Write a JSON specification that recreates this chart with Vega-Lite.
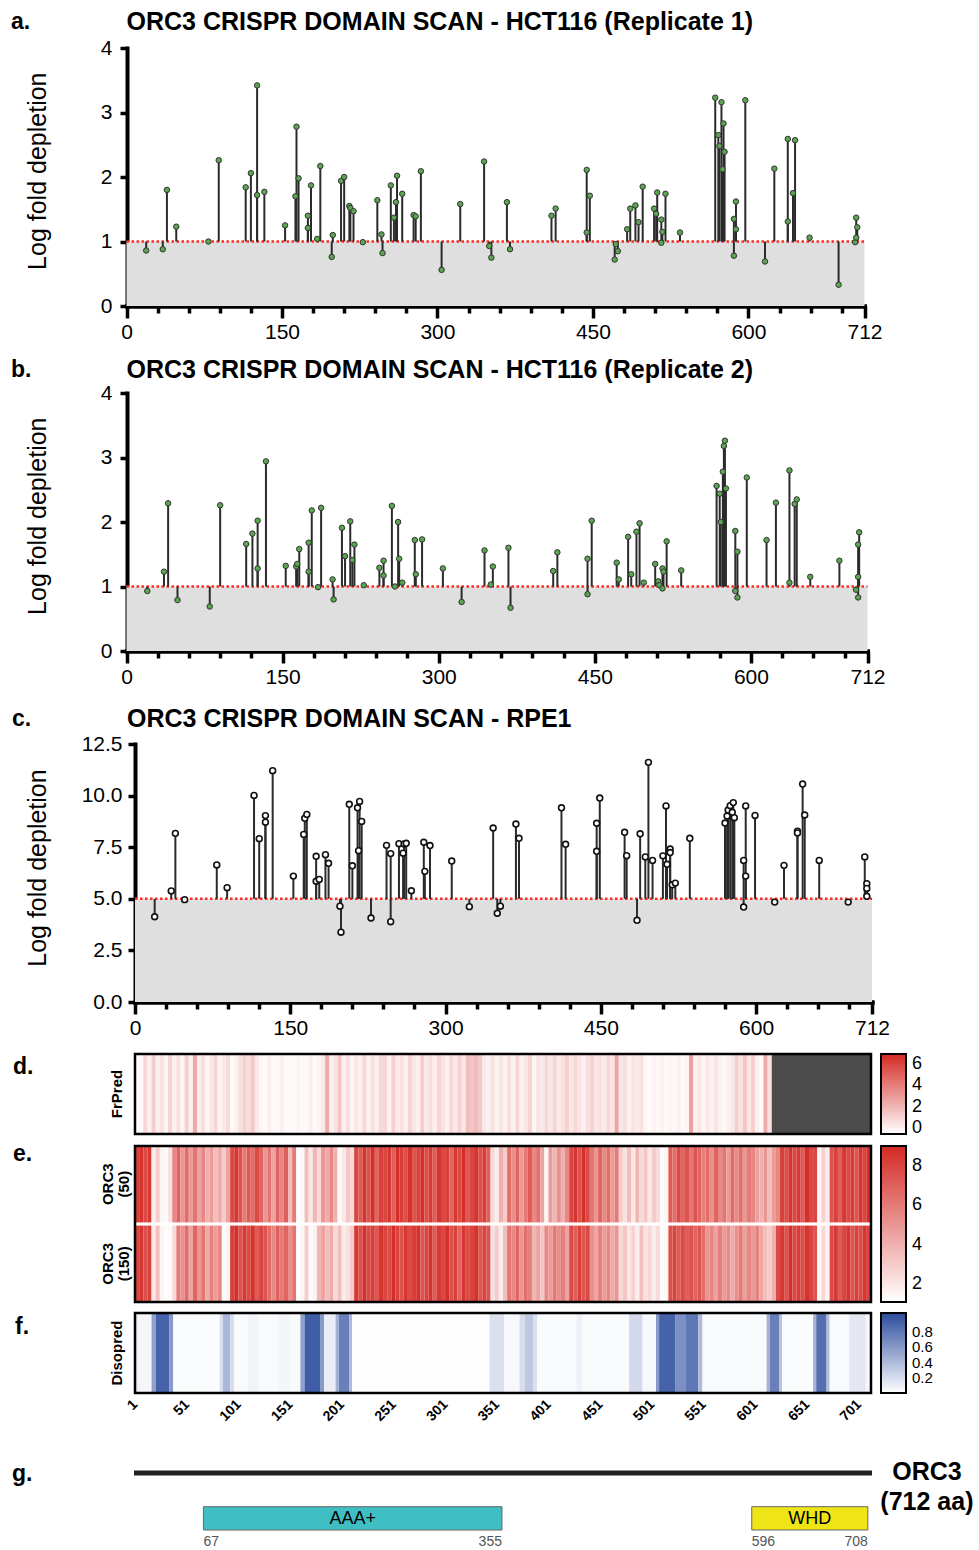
{
"$schema": "https://vega.github.io/schema/vega-lite/v6.json",
"background": "white",
"padding": {"left": 10, "top": 10, "right": 0, "bottom": 0},
"autosize": {"type": "pad"},
"bounds": "flush",
"spacing": 0,
"resolve": {"scale": {"x": "independent", "y": "independent", "color": "independent"}, "legend": {"color": "independent"}},
"config": {
  "view": {"stroke": null},
  "font": "Liberation Sans",
  "axis": {"labelFont": "Liberation Sans", "titleFont": "Liberation Sans", "labelColor": "black", "titleColor": "black", "domainColor": "black", "tickColor": "black", "grid": false},
  "legend": {"labelFont": "Liberation Sans Narrow, Liberation Sans", "labelColor": "black"},
  "text": {"font": "Liberation Sans", "color": "black"}
},
"datasets": {
"ra": [{"r":19,"v":0.86},{"r":35,"v":0.88},{"r":39,"v":1.8},{"r":48,"v":1.23},{"r":79,"v":1.0},{"r":89,"v":2.26},{"r":115,"v":1.84},{"r":120,"v":2.06},{"r":126,"v":3.42},{"r":126,"v":1.72},{"r":133,"v":1.77},{"r":153,"v":1.25},{"r":163,"v":1.7},{"r":164,"v":2.78},{"r":166,"v":1.98},{"r":175,"v":1.4},{"r":175,"v":1.21},{"r":178,"v":1.87},{"r":184,"v":1.04},{"r":187,"v":2.17},{"r":198,"v":0.76},{"r":199,"v":1.1},{"r":207,"v":1.94},{"r":210,"v":2.0},{"r":215,"v":1.55},{"r":216,"v":1.52},{"r":219,"v":1.47},{"r":228,"v":0.99},{"r":242,"v":1.64},{"r":246,"v":1.11},{"r":247,"v":0.82},{"r":255,"v":1.87},{"r":258,"v":1.37},{"r":260,"v":1.61},{"r":261,"v":2.02},{"r":266,"v":1.74},{"r":277,"v":1.41},{"r":279,"v":1.39},{"r":284,"v":2.09},{"r":304,"v":0.56},{"r":322,"v":1.58},{"r":345,"v":2.24},{"r":350,"v":0.93},{"r":352,"v":0.75},{"r":367,"v":1.61},{"r":370,"v":0.88},{"r":410,"v":1.4},{"r":414,"v":1.51},{"r":444,"v":2.11},{"r":444,"v":1.14},{"r":447,"v":1.71},{"r":471,"v":0.72},{"r":472,"v":0.96},{"r":474,"v":0.85},{"r":483,"v":1.19},{"r":486,"v":1.51},{"r":491,"v":1.56},{"r":494,"v":1.3},{"r":498,"v":1.85},{"r":509,"v":1.51},{"r":511,"v":1.43},{"r":512,"v":1.76},{"r":516,"v":1.34},{"r":516,"v":0.98},{"r":517,"v":1.15},{"r":520,"v":1.74},{"r":534,"v":1.14},{"r":568,"v":3.23},{"r":571,"v":2.65},{"r":572,"v":2.48},{"r":574,"v":3.16},{"r":575,"v":2.12},{"r":576,"v":2.83},{"r":577,"v":2.39},{"r":586,"v":1.35},{"r":586,"v":0.78},{"r":588,"v":1.62},{"r":588,"v":1.19},{"r":597,"v":3.19},{"r":616,"v":0.69},{"r":625,"v":2.13},{"r":638,"v":2.59},{"r":638,"v":1.31},{"r":643,"v":1.75},{"r":645,"v":2.57},{"r":659,"v":1.06},{"r":687,"v":0.33},{"r":703,"v":0.99},{"r":704,"v":1.06},{"r":704,"v":1.37},{"r":705,"v":1.22}],
"rb": [{"r":20,"v":0.93},{"r":36,"v":1.23},{"r":40,"v":2.29},{"r":49,"v":0.79},{"r":80,"v":0.69},{"r":90,"v":2.26},{"r":115,"v":1.66},{"r":121,"v":1.82},{"r":126,"v":2.02},{"r":126,"v":1.28},{"r":134,"v":2.94},{"r":153,"v":1.32},{"r":163,"v":1.31},{"r":164,"v":1.35},{"r":166,"v":1.58},{"r":175,"v":1.68},{"r":175,"v":1.23},{"r":178,"v":2.18},{"r":184,"v":0.99},{"r":187,"v":2.22},{"r":198,"v":1.11},{"r":199,"v":0.8},{"r":207,"v":1.91},{"r":210,"v":1.47},{"r":215,"v":2.01},{"r":217,"v":1.41},{"r":219,"v":1.65},{"r":228,"v":1.02},{"r":243,"v":1.29},{"r":247,"v":1.4},{"r":247,"v":1.17},{"r":255,"v":2.25},{"r":258,"v":1.0},{"r":261,"v":2.0},{"r":262,"v":1.43},{"r":265,"v":1.06},{"r":277,"v":1.72},{"r":278,"v":1.19},{"r":284,"v":1.73},{"r":304,"v":1.28},{"r":322,"v":0.76},{"r":344,"v":1.56},{"r":350,"v":1.03},{"r":352,"v":1.31},{"r":367,"v":1.6},{"r":369,"v":0.67},{"r":410,"v":1.24},{"r":414,"v":1.53},{"r":443,"v":1.43},{"r":443,"v":0.88},{"r":447,"v":2.02},{"r":471,"v":1.37},{"r":473,"v":1.11},{"r":482,"v":1.77},{"r":485,"v":1.19},{"r":490,"v":1.85},{"r":493,"v":1.98},{"r":497,"v":1.06},{"r":508,"v":1.35},{"r":511,"v":1.08},{"r":512,"v":1.02},{"r":515,"v":1.28},{"r":515,"v":0.97},{"r":516,"v":1.23},{"r":519,"v":1.7},{"r":533,"v":1.25},{"r":567,"v":2.56},{"r":570,"v":2.44},{"r":571,"v":2.0},{"r":573,"v":2.78},{"r":574,"v":3.18},{"r":575,"v":3.26},{"r":576,"v":2.52},{"r":585,"v":1.86},{"r":585,"v":0.93},{"r":587,"v":1.54},{"r":587,"v":0.83},{"r":596,"v":2.69},{"r":615,"v":1.72},{"r":624,"v":2.3},{"r":637,"v":2.8},{"r":637,"v":1.06},{"r":642,"v":2.28},{"r":644,"v":2.35},{"r":657,"v":1.15},{"r":685,"v":1.4},{"r":701,"v":0.95},{"r":703,"v":0.83},{"r":703,"v":1.15},{"r":703,"v":1.65},{"r":704,"v":1.84}],
"rc": [{"r":19,"v":4.13},{"r":35,"v":5.38},{"r":39,"v":8.17},{"r":48,"v":4.96},{"r":79,"v":6.64},{"r":89,"v":5.54},{"r":115,"v":10.01},{"r":120,"v":7.91},{"r":126,"v":9.03},{"r":126,"v":8.71},{"r":133,"v":11.21},{"r":153,"v":6.1},{"r":163,"v":8.12},{"r":164,"v":8.9},{"r":166,"v":9.09},{"r":175,"v":7.06},{"r":175,"v":5.85},{"r":178,"v":5.94},{"r":184,"v":7.14},{"r":187,"v":6.72},{"r":198,"v":4.64},{"r":199,"v":3.38},{"r":207,"v":9.58},{"r":210,"v":6.6},{"r":215,"v":9.41},{"r":216,"v":7.33},{"r":217,"v":9.72},{"r":219,"v":8.75},{"r":228,"v":4.07},{"r":243,"v":7.59},{"r":247,"v":7.19},{"r":247,"v":3.89},{"r":255,"v":7.67},{"r":259,"v":7.21},{"r":260,"v":7.66},{"r":262,"v":7.69},{"r":267,"v":5.39},{"r":279,"v":7.74},{"r":280,"v":6.33},{"r":285,"v":7.58},{"r":306,"v":6.83},{"r":323,"v":4.62},{"r":346,"v":8.43},{"r":350,"v":4.3},{"r":353,"v":4.64},{"r":368,"v":8.62},{"r":371,"v":7.93},{"r":412,"v":9.41},{"r":416,"v":7.64},{"r":446,"v":8.66},{"r":446,"v":7.3},{"r":449,"v":9.88},{"r":473,"v":8.22},{"r":475,"v":7.09},{"r":485,"v":3.96},{"r":488,"v":8.15},{"r":493,"v":7.03},{"r":496,"v":11.61},{"r":500,"v":6.86},{"r":510,"v":7.08},{"r":513,"v":9.5},{"r":514,"v":6.67},{"r":517,"v":7.41},{"r":517,"v":7.24},{"r":519,"v":5.68},{"r":522,"v":5.76},{"r":536,"v":7.93},{"r":570,"v":8.67},{"r":572,"v":9.01},{"r":573,"v":9.3},{"r":575,"v":9.51},{"r":577,"v":9.19},{"r":578,"v":9.66},{"r":579,"v":8.93},{"r":588,"v":6.86},{"r":588,"v":4.6},{"r":590,"v":9.5},{"r":590,"v":6.1},{"r":599,"v":9.04},{"r":618,"v":4.84},{"r":627,"v":6.62},{"r":640,"v":8.28},{"r":640,"v":8.19},{"r":645,"v":10.56},{"r":647,"v":9.06},{"r":661,"v":6.86},{"r":689,"v":4.84},{"r":705,"v":7.03},{"r":707,"v":5.73},{"r":707,"v":5.5},{"r":707,"v":5.12}],
"fr": [{"s":1,"e":5,"v":-0.5},{"s":5,"e":9,"v":-0.3},{"s":9,"e":13,"v":0.8},{"s":13,"e":17,"v":0.0},{"s":17,"e":21,"v":1.2},{"s":21,"e":25,"v":0.0},{"s":25,"e":29,"v":0.5},{"s":29,"e":33,"v":-0.2},{"s":33,"e":37,"v":1.0},{"s":37,"e":41,"v":-0.1},{"s":41,"e":45,"v":0.6},{"s":45,"e":49,"v":-0.2},{"s":49,"e":53,"v":1.1},{"s":53,"e":57,"v":0.0},{"s":57,"e":61,"v":2.4},{"s":61,"e":65,"v":0.0},{"s":65,"e":69,"v":0.6},{"s":69,"e":73,"v":-0.2},{"s":73,"e":77,"v":0.3},{"s":77,"e":81,"v":0.9},{"s":81,"e":85,"v":-0.2},{"s":85,"e":89,"v":0.2},{"s":89,"e":93,"v":0.7},{"s":93,"e":97,"v":-0.3},{"s":97,"e":101,"v":0.0},{"s":101,"e":105,"v":0.6},{"s":105,"e":109,"v":1.1},{"s":109,"e":113,"v":0.7},{"s":113,"e":117,"v":1.3},{"s":117,"e":121,"v":0.2},{"s":121,"e":125,"v":-0.2},{"s":125,"e":129,"v":-0.4},{"s":129,"e":133,"v":0.0},{"s":133,"e":137,"v":-0.4},{"s":137,"e":141,"v":-0.3},{"s":141,"e":145,"v":0.0},{"s":145,"e":149,"v":-0.4},{"s":149,"e":153,"v":-0.4},{"s":153,"e":157,"v":-0.3},{"s":157,"e":161,"v":-0.2},{"s":161,"e":165,"v":-0.4},{"s":165,"e":169,"v":-0.3},{"s":169,"e":173,"v":0.0},{"s":173,"e":177,"v":-0.4},{"s":177,"e":181,"v":-0.2},{"s":181,"e":185,"v":0.2},{"s":185,"e":189,"v":2.4},{"s":189,"e":193,"v":0.0},{"s":193,"e":197,"v":0.4},{"s":197,"e":201,"v":1.5},{"s":201,"e":205,"v":0.0},{"s":205,"e":209,"v":0.6},{"s":209,"e":213,"v":-0.2},{"s":213,"e":217,"v":0.3},{"s":217,"e":221,"v":0.0},{"s":221,"e":225,"v":0.9},{"s":225,"e":229,"v":0.0},{"s":229,"e":233,"v":0.5},{"s":233,"e":237,"v":0.0},{"s":237,"e":241,"v":0.8},{"s":241,"e":245,"v":0.9},{"s":245,"e":249,"v":0.0},{"s":249,"e":253,"v":1.1},{"s":253,"e":257,"v":0.2},{"s":257,"e":261,"v":0.5},{"s":261,"e":265,"v":0.0},{"s":265,"e":269,"v":1.0},{"s":269,"e":273,"v":0.3},{"s":273,"e":277,"v":0.0},{"s":277,"e":281,"v":1.2},{"s":281,"e":285,"v":0.2},{"s":285,"e":289,"v":0.6},{"s":289,"e":293,"v":0.0},{"s":293,"e":297,"v":0.9},{"s":297,"e":301,"v":0.4},{"s":301,"e":305,"v":0.0},{"s":305,"e":309,"v":0.8},{"s":309,"e":313,"v":0.2},{"s":313,"e":317,"v":1.0},{"s":317,"e":321,"v":0.3},{"s":321,"e":325,"v":1.7},{"s":325,"e":329,"v":1.5},{"s":329,"e":333,"v":1.9},{"s":333,"e":337,"v":1.4},{"s":337,"e":341,"v":0.3},{"s":341,"e":345,"v":0.0},{"s":345,"e":349,"v":0.5},{"s":349,"e":353,"v":-0.1},{"s":353,"e":357,"v":0.3},{"s":357,"e":361,"v":-0.1},{"s":361,"e":365,"v":0.6},{"s":365,"e":369,"v":-0.1},{"s":369,"e":373,"v":0.9},{"s":373,"e":377,"v":0.0},{"s":377,"e":381,"v":0.3},{"s":381,"e":385,"v":1.0},{"s":385,"e":389,"v":-0.2},{"s":389,"e":393,"v":0.4},{"s":393,"e":397,"v":0.2},{"s":397,"e":401,"v":0.8},{"s":401,"e":405,"v":0.3},{"s":405,"e":409,"v":1.0},{"s":409,"e":413,"v":0.2},{"s":413,"e":417,"v":0.5},{"s":417,"e":421,"v":1.1},{"s":421,"e":425,"v":0.3},{"s":425,"e":429,"v":0.8},{"s":429,"e":433,"v":0.4},{"s":433,"e":437,"v":0.0},{"s":437,"e":441,"v":0.6},{"s":441,"e":445,"v":1.0},{"s":445,"e":449,"v":0.3},{"s":449,"e":453,"v":0.5},{"s":453,"e":457,"v":0.2},{"s":457,"e":461,"v":0.8},{"s":461,"e":465,"v":0.4},{"s":465,"e":469,"v":2.6},{"s":469,"e":473,"v":0.3},{"s":473,"e":477,"v":0.6},{"s":477,"e":481,"v":0.0},{"s":481,"e":485,"v":0.4},{"s":485,"e":489,"v":0.2},{"s":489,"e":493,"v":0.5},{"s":493,"e":497,"v":-0.2},{"s":497,"e":501,"v":-0.4},{"s":501,"e":505,"v":-0.1},{"s":505,"e":509,"v":-0.3},{"s":509,"e":513,"v":-0.1},{"s":513,"e":517,"v":-0.4},{"s":517,"e":521,"v":-0.2},{"s":521,"e":525,"v":-0.3},{"s":525,"e":529,"v":0.0},{"s":529,"e":533,"v":-0.4},{"s":533,"e":537,"v":-0.2},{"s":537,"e":541,"v":2.8},{"s":541,"e":545,"v":0.0},{"s":545,"e":549,"v":0.3},{"s":549,"e":553,"v":-0.2},{"s":553,"e":557,"v":0.2},{"s":557,"e":561,"v":-0.1},{"s":561,"e":565,"v":0.4},{"s":565,"e":569,"v":-0.1},{"s":569,"e":573,"v":-0.3},{"s":573,"e":577,"v":0.0},{"s":577,"e":581,"v":0.3},{"s":581,"e":585,"v":1.2},{"s":585,"e":589,"v":0.5},{"s":589,"e":593,"v":1.4},{"s":593,"e":597,"v":0.3},{"s":597,"e":601,"v":1.1},{"s":601,"e":605,"v":0.0},{"s":605,"e":609,"v":-0.3},{"s":609,"e":613,"v":2.4},{"s":613,"e":617,"v":0.5}],
"orc": [{"s":1,"e":5,"t":8.2,"u":8.0},{"s":5,"e":9,"t":8.6,"u":8.5},{"s":9,"e":13,"t":7.8,"u":7.6},{"s":13,"e":17,"t":8.4,"u":8.2},{"s":17,"e":21,"t":1.8,"u":2.0},{"s":21,"e":25,"t":3.0,"u":3.5},{"s":25,"e":29,"t":1.5,"u":1.5},{"s":29,"e":33,"t":1.3,"u":1.2},{"s":33,"e":37,"t":2.2,"u":1.3},{"s":37,"e":41,"t":5.5,"u":2.5},{"s":41,"e":45,"t":6.8,"u":6.0},{"s":45,"e":49,"t":5.0,"u":5.2},{"s":49,"e":53,"t":6.5,"u":6.5},{"s":53,"e":57,"t":4.8,"u":4.5},{"s":57,"e":61,"t":6.2,"u":6.8},{"s":61,"e":65,"t":4.5,"u":5.0},{"s":65,"e":69,"t":5.5,"u":6.2},{"s":69,"e":73,"t":4.0,"u":4.2},{"s":73,"e":77,"t":4.8,"u":5.8},{"s":77,"e":81,"t":3.5,"u":4.8},{"s":81,"e":85,"t":4.2,"u":5.5},{"s":85,"e":89,"t":3.0,"u":1.3},{"s":89,"e":93,"t":4.5,"u":1.5},{"s":93,"e":97,"t":7.8,"u":8.2},{"s":97,"e":101,"t":8.5,"u":8.8},{"s":101,"e":105,"t":7.5,"u":7.5},{"s":105,"e":109,"t":6.0,"u":8.4},{"s":109,"e":113,"t":7.2,"u":7.8},{"s":113,"e":117,"t":6.5,"u":8.6},{"s":117,"e":121,"t":7.8,"u":7.2},{"s":121,"e":125,"t":6.8,"u":8.0},{"s":125,"e":129,"t":5.0,"u":7.4},{"s":129,"e":133,"t":6.2,"u":6.5},{"s":133,"e":137,"t":4.5,"u":5.5},{"s":137,"e":141,"t":6.8,"u":7.0},{"s":141,"e":145,"t":5.5,"u":6.0},{"s":145,"e":149,"t":7.0,"u":6.8},{"s":149,"e":153,"t":3.5,"u":5.2},{"s":153,"e":157,"t":6.0,"u":6.2},{"s":157,"e":161,"t":1.2,"u":1.2},{"s":161,"e":165,"t":1.4,"u":1.5},{"s":165,"e":169,"t":3.5,"u":3.0},{"s":169,"e":173,"t":2.0,"u":1.3},{"s":173,"e":177,"t":3.8,"u":1.6},{"s":177,"e":181,"t":2.5,"u":3.8},{"s":181,"e":185,"t":5.0,"u":4.5},{"s":185,"e":189,"t":4.2,"u":3.5},{"s":189,"e":193,"t":5.5,"u":4.2},{"s":193,"e":197,"t":4.0,"u":2.5},{"s":197,"e":201,"t":1.3,"u":3.5},{"s":201,"e":205,"t":2.0,"u":1.8},{"s":205,"e":209,"t":3.2,"u":2.2},{"s":209,"e":213,"t":2.5,"u":3.0},{"s":213,"e":217,"t":8.0,"u":8.4},{"s":217,"e":221,"t":7.2,"u":7.6},{"s":221,"e":225,"t":8.6,"u":8.8},{"s":225,"e":229,"t":7.5,"u":7.9},{"s":229,"e":233,"t":8.8,"u":8.2},{"s":233,"e":237,"t":6.8,"u":7.3},{"s":237,"e":241,"t":8.2,"u":8.6},{"s":241,"e":245,"t":7.9,"u":8.0},{"s":245,"e":249,"t":8.5,"u":7.7},{"s":249,"e":253,"t":7.0,"u":8.9},{"s":253,"e":257,"t":8.9,"u":8.1},{"s":257,"e":261,"t":8.3,"u":7.5},{"s":261,"e":265,"t":7.6,"u":8.5},{"s":265,"e":269,"t":8.7,"u":7.8},{"s":269,"e":273,"t":7.4,"u":8.3},{"s":273,"e":277,"t":8.1,"u":8.7},{"s":277,"e":281,"t":8.8,"u":7.4},{"s":281,"e":285,"t":7.7,"u":8.0},{"s":285,"e":289,"t":8.4,"u":8.6},{"s":289,"e":293,"t":7.1,"u":7.2},{"s":293,"e":297,"t":8.6,"u":8.4},{"s":297,"e":301,"t":7.9,"u":7.9},{"s":301,"e":305,"t":8.2,"u":8.8},{"s":305,"e":309,"t":6.9,"u":7.6},{"s":309,"e":313,"t":8.5,"u":8.2},{"s":313,"e":317,"t":7.8,"u":6.8},{"s":317,"e":321,"t":8.8,"u":8.5},{"s":321,"e":325,"t":7.3,"u":7.7},{"s":325,"e":329,"t":8.0,"u":8.1},{"s":329,"e":333,"t":8.6,"u":8.7},{"s":333,"e":337,"t":7.5,"u":7.3},{"s":337,"e":341,"t":8.3,"u":8.0},{"s":341,"e":345,"t":7.0,"u":7.5},{"s":345,"e":349,"t":2.5,"u":2.2},{"s":349,"e":353,"t":1.8,"u":3.0},{"s":353,"e":357,"t":4.0,"u":1.8},{"s":357,"e":361,"t":3.0,"u":3.5},{"s":361,"e":365,"t":6.5,"u":6.2},{"s":365,"e":369,"t":5.2,"u":5.5},{"s":369,"e":373,"t":6.8,"u":6.8},{"s":373,"e":377,"t":4.8,"u":5.0},{"s":377,"e":381,"t":6.0,"u":6.4},{"s":381,"e":385,"t":7.2,"u":5.8},{"s":385,"e":389,"t":5.5,"u":3.8},{"s":389,"e":393,"t":6.3,"u":4.5},{"s":393,"e":397,"t":4.5,"u":3.2},{"s":397,"e":401,"t":1.5,"u":5.5},{"s":401,"e":405,"t":4.8,"u":4.8},{"s":405,"e":409,"t":3.8,"u":6.0},{"s":409,"e":413,"t":5.2,"u":5.2},{"s":413,"e":417,"t":4.0,"u":5.8},{"s":417,"e":421,"t":5.5,"u":4.5},{"s":421,"e":425,"t":8.0,"u":7.8},{"s":425,"e":429,"t":8.6,"u":7.0},{"s":429,"e":433,"t":7.5,"u":8.2},{"s":433,"e":437,"t":8.8,"u":7.4},{"s":437,"e":441,"t":7.8,"u":7.9},{"s":441,"e":445,"t":6.2,"u":5.2},{"s":445,"e":449,"t":5.0,"u":4.4},{"s":449,"e":453,"t":6.8,"u":5.8},{"s":453,"e":457,"t":5.5,"u":4.8},{"s":457,"e":461,"t":6.5,"u":5.5},{"s":461,"e":465,"t":4.8,"u":4.2},{"s":465,"e":469,"t":6.0,"u":5.0},{"s":469,"e":473,"t":3.0,"u":2.5},{"s":473,"e":477,"t":2.2,"u":3.2},{"s":477,"e":481,"t":3.5,"u":2.0},{"s":481,"e":485,"t":2.0,"u":2.8},{"s":485,"e":489,"t":3.8,"u":1.8},{"s":489,"e":493,"t":2.5,"u":3.4},{"s":493,"e":497,"t":3.2,"u":2.2},{"s":497,"e":501,"t":2.0,"u":2.6},{"s":501,"e":505,"t":3.0,"u":1.8},{"s":505,"e":509,"t":2.4,"u":2.4},{"s":509,"e":513,"t":1.2,"u":1.2},{"s":513,"e":517,"t":1.5,"u":1.4},{"s":517,"e":521,"t":7.2,"u":7.6},{"s":521,"e":525,"t":6.5,"u":8.0},{"s":525,"e":529,"t":7.8,"u":7.2},{"s":529,"e":533,"t":6.8,"u":7.8},{"s":533,"e":537,"t":7.5,"u":7.0},{"s":537,"e":541,"t":6.2,"u":7.5},{"s":541,"e":545,"t":7.4,"u":6.8},{"s":545,"e":549,"t":6.8,"u":7.4},{"s":549,"e":553,"t":5.8,"u":6.5},{"s":553,"e":557,"t":6.5,"u":5.0},{"s":557,"e":561,"t":5.2,"u":5.6},{"s":561,"e":565,"t":6.8,"u":4.5},{"s":565,"e":569,"t":5.5,"u":5.8},{"s":569,"e":573,"t":6.2,"u":4.8},{"s":573,"e":577,"t":4.8,"u":5.4},{"s":577,"e":581,"t":6.6,"u":4.2},{"s":581,"e":585,"t":5.4,"u":5.2},{"s":585,"e":589,"t":6.4,"u":6.0},{"s":589,"e":593,"t":5.0,"u":4.6},{"s":593,"e":597,"t":6.0,"u":5.5},{"s":597,"e":601,"t":5.6,"u":4.9},{"s":601,"e":605,"t":4.6,"u":5.7},{"s":605,"e":609,"t":4.0,"u":4.4},{"s":609,"e":613,"t":5.0,"u":3.5},{"s":613,"e":617,"t":3.5,"u":3.0},{"s":617,"e":621,"t":4.8,"u":4.0},{"s":621,"e":625,"t":5.5,"u":7.8},{"s":625,"e":629,"t":8.2,"u":8.4},{"s":629,"e":633,"t":7.6,"u":7.5},{"s":633,"e":637,"t":8.6,"u":8.8},{"s":637,"e":641,"t":7.9,"u":7.9},{"s":641,"e":645,"t":8.4,"u":8.3},{"s":645,"e":649,"t":7.2,"u":7.6},{"s":649,"e":653,"t":8.8,"u":8.6},{"s":653,"e":657,"t":7.8,"u":8.0},{"s":657,"e":661,"t":8.0,"u":7.4},{"s":661,"e":665,"t":1.5,"u":1.4},{"s":665,"e":669,"t":2.8,"u":2.6},{"s":669,"e":673,"t":1.8,"u":1.6},{"s":673,"e":677,"t":7.5,"u":7.8},{"s":677,"e":681,"t":8.2,"u":8.4},{"s":681,"e":685,"t":7.0,"u":7.2},{"s":685,"e":689,"t":8.5,"u":8.0},{"s":689,"e":693,"t":7.8,"u":8.6},{"s":693,"e":697,"t":8.3,"u":7.5},{"s":697,"e":701,"t":7.4,"u":8.2},{"s":701,"e":705,"t":8.6,"u":7.7},{"s":705,"e":709,"t":8.0,"u":8.5},{"s":709,"e":713,"t":8.8,"u":8.0}],
"dis": [{"s":1,"e":4,"v":0.12},{"s":4,"e":17,"v":0.05},{"s":17,"e":21,"v":0.55},{"s":21,"e":34,"v":0.92},{"s":34,"e":38,"v":0.6},{"s":38,"e":83,"v":0.02},{"s":83,"e":86,"v":0.2},{"s":86,"e":93,"v":0.42},{"s":93,"e":97,"v":0.2},{"s":97,"e":110,"v":0.03},{"s":110,"e":120,"v":0.07},{"s":120,"e":140,"v":0.03},{"s":140,"e":150,"v":0.06},{"s":150,"e":161,"v":0.03},{"s":161,"e":165,"v":0.55},{"s":165,"e":180,"v":0.95},{"s":180,"e":184,"v":0.6},{"s":184,"e":195,"v":0.1},{"s":195,"e":198,"v":0.45},{"s":198,"e":208,"v":0.75},{"s":208,"e":211,"v":0.4},{"s":211,"e":344,"v":0.01},{"s":344,"e":358,"v":0.18},{"s":358,"e":373,"v":0.04},{"s":373,"e":378,"v":0.2},{"s":378,"e":386,"v":0.32},{"s":386,"e":390,"v":0.18},{"s":390,"e":428,"v":0.03},{"s":428,"e":434,"v":0.08},{"s":434,"e":479,"v":0.03},{"s":479,"e":492,"v":0.22},{"s":492,"e":505,"v":0.04},{"s":505,"e":508,"v":0.6},{"s":508,"e":524,"v":0.92},{"s":524,"e":534,"v":0.65},{"s":534,"e":546,"v":0.8},{"s":546,"e":550,"v":0.4},{"s":550,"e":612,"v":0.03},{"s":612,"e":615,"v":0.45},{"s":615,"e":624,"v":0.75},{"s":624,"e":627,"v":0.35},{"s":627,"e":657,"v":0.02},{"s":657,"e":660,"v":0.45},{"s":660,"e":670,"v":0.85},{"s":670,"e":673,"v":0.4},{"s":673,"e":692,"v":0.03},{"s":692,"e":708,"v":0.14},{"s":708,"e":713,"v":0.05}],
"dom": [{"n":"AAA+","s":67,"e":355},{"n":"WHD","s":596,"e":708}]
},
"vconcat": [
{
 "width": 750, "height": 258,
 "resolve": {"axis": {"x": "independent", "y": "independent"}},
 "layer": [
  {"data": {"values": [{}]}, "mark": {"type": "rect", "color": "#dfdfdf"},
   "encoding": {
    "x": {"datum": 0, "type": "quantitative", "scale": {"domain": [0, 712], "range": [1.5, 739.5], "nice": false, "zero": false},
      "axis": {"orient": "bottom", "values": [30,60,90,120,180,210,240,270,330,360,390,420,480,510,540,570,630,660,690], "labels": false, "tickSize": 7, "tickWidth": 3.5, "domainWidth": 4, "domainCap": "square", "title": null, "grid": false}},
    "x2": {"datum": 712},
    "y": {"datum": 0, "type": "quantitative", "scale": {"domain": [0, 4], "nice": false, "zero": false},
      "axis": {"orient": "left", "values": [0,1,2,3,4], "format": "d", "tickSize": 7, "tickWidth": 3.5, "domainWidth": 4, "domainCap": "square", "labelFontSize": 21, "labelPadding": 8, "title": null, "offset": -2, "grid": false}},
    "y2": {"datum": 1}}},
  {"data": {"values": [{}]}, "mark": {"type": "rule", "color": "#ff2a20", "strokeWidth": 2.5, "strokeDash": [2.5, 2.5]},
   "encoding": {"x": {"datum": 0, "type": "quantitative",
      "axis": {"orient": "bottom", "values": [0,150,300,450,600,712], "format": "d", "tickSize": 12, "tickWidth": 3.5, "domainWidth": 4, "domainCap": "square", "labelFontSize": 21, "labelPadding": 3, "labelFlush": false, "title": null, "grid": false}},
    "x2": {"datum": 712}, "y": {"datum": 1, "type": "quantitative", "axis": null}}},
  {"data": {"name": "ra"}, "mark": {"type": "rule", "color": "#2b2b2b", "strokeWidth": 2},
   "encoding": {"x": {"field": "r", "type": "quantitative", "axis": null}, "y": {"field": "v", "type": "quantitative", "axis": null}, "y2": {"datum": 1}}},
  {"data": {"name": "ra"}, "mark": {"type": "point", "filled": true, "fill": "#5aa54f", "stroke": "#333333", "strokeWidth": 1, "size": 30, "opacity": 1},
   "encoding": {"x": {"field": "r", "type": "quantitative", "axis": null}, "y": {"field": "v", "type": "quantitative", "axis": null}}},
  {"data": {"values": [{}]}, "mark": {"type": "text", "text": "a.", "fontSize": 23, "fontWeight": "bold", "align": "left", "baseline": "middle"},
   "encoding": {"x": {"datum": -111.4, "type": "quantitative", "axis": null}, "y": {"datum": 4.4, "type": "quantitative", "axis": null}}},
  {"data": {"values": [{}]}, "mark": {"type": "text", "text": "ORC3 CRISPR DOMAIN SCAN - HCT116 (Replicate 1)", "fontSize": 25, "fontWeight": "bold", "align": "left", "baseline": "middle"},
   "encoding": {"x": {"datum": 0, "type": "quantitative", "axis": null}, "y": {"datum": 4.4, "type": "quantitative", "axis": null}}},
  {"data": {"values": [{}]}, "mark": {"type": "text", "text": "Log fold depletion", "angle": 270, "fontSize": 25, "align": "center", "baseline": "middle"},
   "encoding": {"x": {"datum": -85.4, "type": "quantitative", "axis": null}, "y": {"datum": 2.09, "type": "quantitative", "axis": null}}}
 ]
},
{"width": 750, "height": 87, "data": {"values": [{}]}, "mark": {"type": "point", "opacity": 0}, "encoding": {}},
{
 "width": 750, "height": 258,
 "resolve": {"axis": {"x": "independent", "y": "independent"}},
 "layer": [
  {"data": {"values": [{}]}, "mark": {"type": "rect", "color": "#dfdfdf"},
   "encoding": {
    "x": {"datum": 0, "type": "quantitative", "scale": {"domain": [0, 712], "range": [1.5, 742.5], "nice": false, "zero": false},
      "axis": {"orient": "bottom", "values": [30,60,90,120,180,210,240,270,330,360,390,420,480,510,540,570,630,660,690], "labels": false, "tickSize": 7, "tickWidth": 3.5, "domainWidth": 4, "domainCap": "square", "title": null, "grid": false}},
    "x2": {"datum": 712},
    "y": {"datum": 0, "type": "quantitative", "scale": {"domain": [0, 4], "nice": false, "zero": false},
      "axis": {"orient": "left", "values": [0,1,2,3,4], "format": "d", "tickSize": 7, "tickWidth": 3.5, "domainWidth": 4, "domainCap": "square", "labelFontSize": 21, "labelPadding": 8, "title": null, "offset": -2, "grid": false}},
    "y2": {"datum": 1}}},
  {"data": {"values": [{}]}, "mark": {"type": "rule", "color": "#ff2a20", "strokeWidth": 2.5, "strokeDash": [2.5, 2.5]},
   "encoding": {"x": {"datum": 0, "type": "quantitative",
      "axis": {"orient": "bottom", "values": [0,150,300,450,600,712], "format": "d", "tickSize": 12, "tickWidth": 3.5, "domainWidth": 4, "domainCap": "square", "labelFontSize": 21, "labelPadding": 3, "labelFlush": false, "title": null, "grid": false}},
    "x2": {"datum": 712}, "y": {"datum": 1, "type": "quantitative", "axis": null}}},
  {"data": {"name": "rb"}, "mark": {"type": "rule", "color": "#2b2b2b", "strokeWidth": 2},
   "encoding": {"x": {"field": "r", "type": "quantitative", "axis": null}, "y": {"field": "v", "type": "quantitative", "axis": null}, "y2": {"datum": 1}}},
  {"data": {"name": "rb"}, "mark": {"type": "point", "filled": true, "fill": "#5aa54f", "stroke": "#333333", "strokeWidth": 1, "size": 30, "opacity": 1},
   "encoding": {"x": {"field": "r", "type": "quantitative", "axis": null}, "y": {"field": "v", "type": "quantitative", "axis": null}}},
  {"data": {"values": [{}]}, "mark": {"type": "text", "text": "b.", "fontSize": 23, "fontWeight": "bold", "align": "left", "baseline": "middle"},
   "encoding": {"x": {"datum": -111, "type": "quantitative", "axis": null}, "y": {"datum": 4.36, "type": "quantitative", "axis": null}}},
  {"data": {"values": [{}]}, "mark": {"type": "text", "text": "ORC3 CRISPR DOMAIN SCAN - HCT116 (Replicate 2)", "fontSize": 25, "fontWeight": "bold", "align": "left", "baseline": "middle"},
   "encoding": {"x": {"datum": 0, "type": "quantitative", "axis": null}, "y": {"datum": 4.36, "type": "quantitative", "axis": null}}},
  {"data": {"values": [{}]}, "mark": {"type": "text", "text": "Log fold depletion", "angle": 270, "fontSize": 25, "align": "center", "baseline": "middle"},
   "encoding": {"x": {"datum": -85.0, "type": "quantitative", "axis": null}, "y": {"datum": 2.09, "type": "quantitative", "axis": null}}}
 ]
},
{"width": 750, "height": 93, "data": {"values": [{}]}, "mark": {"type": "point", "opacity": 0}, "encoding": {}},
{
 "width": 750, "height": 258,
 "resolve": {"axis": {"x": "independent", "y": "independent"}},
 "layer": [
  {"data": {"values": [{}]}, "mark": {"type": "rect", "color": "#dfdfdf"},
   "encoding": {
    "x": {"datum": 0, "type": "quantitative", "scale": {"domain": [0, 712], "range": [10, 747], "nice": false, "zero": false},
      "axis": {"orient": "bottom", "values": [30,60,90,120,180,210,240,270,330,360,390,420,480,510,540,570,630,660,690], "labels": false, "tickSize": 7, "tickWidth": 3.5, "domainWidth": 4, "domainCap": "square", "title": null, "grid": false}},
    "x2": {"datum": 712},
    "y": {"datum": 0, "type": "quantitative", "scale": {"domain": [0, 12.5], "nice": false, "zero": false},
      "axis": {"orient": "left", "values": [0,2.5,5,7.5,10,12.5], "format": ".1f", "tickSize": 7, "tickWidth": 3.5, "domainWidth": 4, "domainCap": "square", "labelFontSize": 21, "labelPadding": 6, "title": null, "offset": -10, "grid": false}},
    "y2": {"datum": 5}}},
  {"data": {"values": [{}]}, "mark": {"type": "rule", "color": "#ff2a20", "strokeWidth": 2.5, "strokeDash": [2.5, 2.5]},
   "encoding": {"x": {"datum": 0, "type": "quantitative",
      "axis": {"orient": "bottom", "values": [0,150,300,450,600,712], "format": "d", "tickSize": 12, "tickWidth": 3.5, "domainWidth": 4, "domainCap": "square", "labelFontSize": 21, "labelPadding": 3, "labelFlush": false, "title": null, "grid": false}},
    "x2": {"datum": 712}, "y": {"datum": 5, "type": "quantitative", "axis": null}}},
  {"data": {"name": "rc"}, "mark": {"type": "rule", "color": "#2b2b2b", "strokeWidth": 2},
   "encoding": {"x": {"field": "r", "type": "quantitative", "axis": null}, "y": {"field": "v", "type": "quantitative", "axis": null}, "y2": {"datum": 5}}},
  {"data": {"name": "rc"}, "mark": {"type": "point", "filled": true, "fill": "#ffffff", "stroke": "#111111", "strokeWidth": 1.6, "size": 34, "opacity": 1},
   "encoding": {"x": {"field": "r", "type": "quantitative", "axis": null}, "y": {"field": "v", "type": "quantitative", "axis": null}}},
  {"data": {"values": [{}]}, "mark": {"type": "text", "text": "c.", "fontSize": 23, "fontWeight": "bold", "align": "left", "baseline": "middle"},
   "encoding": {"x": {"datum": -118.8, "type": "quantitative", "axis": null}, "y": {"datum": 13.71, "type": "quantitative", "axis": null}}},
  {"data": {"values": [{}]}, "mark": {"type": "text", "text": "ORC3 CRISPR DOMAIN SCAN - RPE1", "fontSize": 25, "fontWeight": "bold", "align": "left", "baseline": "middle"},
   "encoding": {"x": {"datum": -7.7, "type": "quantitative", "axis": null}, "y": {"datum": 13.71, "type": "quantitative", "axis": null}}},
  {"data": {"values": [{}]}, "mark": {"type": "text", "text": "Log fold depletion", "angle": 270, "fontSize": 25, "align": "center", "baseline": "middle"},
   "encoding": {"x": {"datum": -93.7, "type": "quantitative", "axis": null}, "y": {"datum": 6.49, "type": "quantitative", "axis": null}}}
 ]
},
{"width": 750, "height": 52, "data": {"values": [{}]}, "mark": {"type": "point", "opacity": 0}, "encoding": {}},
{
 "width": 750, "height": 80,
 "layer": [
  {"data": {"name": "fr"}, "mark": {"type": "rect"},
   "encoding": {
    "x": {"field": "s", "type": "quantitative", "scale": {"domain": [1, 713], "range": [10, 746], "nice": false, "zero": false}, "axis": null},
    "x2": {"field": "e"},
    "y": {"datum": 0, "type": "quantitative", "scale": {"domain": [0, 1], "nice": false, "zero": false}, "axis": null},
    "y2": {"datum": 1},
    "color": {"field": "v", "type": "quantitative", "scale": {"domain": [-0.56, 6.9], "range": ["#ffffff", "#d42a24"], "interpolate": "rgb"},
      "legend": {"title": null, "orient": "right", "offset": 6, "padding": 0, "direction": "vertical", "gradientLength": 80, "gradientThickness": 25, "gradientStrokeColor": "black", "gradientStrokeWidth": 2, "values": [0, 2, 4, 6], "labelFontSize": 18, "labelOffset": 6, "labelOverlap": false}}}},
  {"data": {"values": [{}]}, "mark": {"type": "rect", "color": "#4b4b4b"},
   "encoding": {"x": {"datum": 617, "type": "quantitative"}, "x2": {"datum": 713}, "y": {"datum": 0, "type": "quantitative"}, "y2": {"datum": 1}}},
  {"data": {"values": [{}]}, "mark": {"type": "rect", "fillOpacity": 0, "stroke": "black", "strokeWidth": 2.5},
   "encoding": {"x": {"datum": 1, "type": "quantitative"}, "x2": {"datum": 713}, "y": {"datum": 0, "type": "quantitative"}, "y2": {"datum": 1}}},
  {"data": {"values": [{}]}, "mark": {"type": "text", "text": "FrPred", "angle": 270, "fontSize": 15, "fontWeight": "bold", "align": "center", "baseline": "middle"},
   "encoding": {"x": {"datum": -16.4, "type": "quantitative"}, "y": {"datum": 0.5, "type": "quantitative"}}},
  {"data": {"values": [{}]}, "mark": {"type": "text", "text": "d.", "fontSize": 23, "fontWeight": "bold", "align": "left", "baseline": "middle"},
   "encoding": {"x": {"datum": -117, "type": "quantitative"}, "y": {"datum": 0.84, "type": "quantitative"}}}
 ]
},
{"width": 750, "height": 12, "data": {"values": [{}]}, "mark": {"type": "point", "opacity": 0}, "encoding": {}},
{
 "width": 750, "height": 156,
 "layer": [
  {"data": {"name": "orc"}, "transform": [{"fold": ["t", "u"], "as": ["row", "v"]}], "mark": {"type": "rect"},
   "encoding": {
    "x": {"field": "s", "type": "quantitative", "scale": {"domain": [1, 713], "range": [10, 746], "nice": false, "zero": false}, "axis": null},
    "x2": {"field": "e"},
    "y": {"field": "row", "type": "nominal", "scale": {"domain": ["t", "u"], "paddingInner": 0.04, "paddingOuter": 0}, "axis": null},
    "color": {"field": "v", "type": "quantitative", "scale": {"domain": [1.1, 9.0], "range": ["#ffffff", "#d42a24"], "interpolate": "rgb"},
      "legend": {"title": null, "orient": "right", "offset": 6, "padding": 0, "direction": "vertical", "gradientLength": 156, "gradientThickness": 25, "gradientStrokeColor": "black", "gradientStrokeWidth": 2, "values": [2, 4, 6, 8], "labelFontSize": 18, "labelOffset": 6, "labelOverlap": false}}}},
  {"data": {"values": [{}]}, "mark": {"type": "rect", "fillOpacity": 0, "stroke": "black", "strokeWidth": 2.5},
   "encoding": {"x": {"datum": 1, "type": "quantitative"}, "x2": {"datum": 713}}},
  {"data": {"values": [{"row": "t", "lab": "ORC3\n(50)"}, {"row": "u", "lab": "ORC3\n(150)"}]}, "mark": {"type": "text", "angle": 270, "fontSize": 15, "fontWeight": "bold", "align": "center", "baseline": "middle", "lineBreak": "\n", "lineHeight": 16},
   "encoding": {"x": {"datum": -25, "type": "quantitative"}, "y": {"field": "row", "type": "nominal"}, "text": {"field": "lab"}}},
  {"data": {"values": [{}]}, "mark": {"type": "text", "text": "e.", "fontSize": 23, "fontWeight": "bold", "align": "left", "baseline": "middle"},
   "encoding": {"x": {"datum": -117, "type": "quantitative"}, "y": {"datum": "t", "type": "nominal", "bandPosition": 0.1}}}
 ]
},
{"width": 750, "height": 11, "data": {"values": [{}]}, "mark": {"type": "point", "opacity": 0}, "encoding": {}},
{
 "width": 750, "height": 80,
 "layer": [
  {"data": {"name": "dis"}, "mark": {"type": "rect"},
   "encoding": {
    "x": {"field": "s", "type": "quantitative", "scale": {"domain": [1, 713], "range": [10, 746], "nice": false, "zero": false},
      "axis": {"values": [1,51,101,151,201,251,301,351,401,451,501,551,601,651,701], "labelAngle": -45, "labelAlign": "right", "labelBaseline": "middle", "labelFontSize": 14, "labelFontWeight": "bold", "domain": false, "ticks": false, "labelPadding": 9, "labelFlush": false, "labelOverlap": false, "title": null, "grid": false}},
    "x2": {"field": "e"},
    "y": {"datum": 0, "type": "quantitative", "scale": {"domain": [0, 1], "nice": false, "zero": false}, "axis": null},
    "y2": {"datum": 1},
    "color": {"field": "v", "type": "quantitative", "scale": {"domain": [0, 1.05], "range": ["#ffffff", "#2c4c9e"], "interpolate": "rgb"},
      "legend": {"title": null, "orient": "right", "offset": 6, "padding": 0, "direction": "vertical", "gradientLength": 80, "gradientThickness": 25, "gradientStrokeColor": "black", "gradientStrokeWidth": 2, "values": [0.2, 0.4, 0.6, 0.8], "format": ".1f", "labelFontSize": 15, "labelOffset": 6, "labelOverlap": false}}}},
  {"data": {"values": [{}]}, "mark": {"type": "rect", "fillOpacity": 0, "stroke": "black", "strokeWidth": 2.5},
   "encoding": {"x": {"datum": 1, "type": "quantitative"}, "x2": {"datum": 713}, "y": {"datum": 0, "type": "quantitative"}, "y2": {"datum": 1}}},
  {"data": {"values": [{}]}, "mark": {"type": "text", "text": "Disopred", "angle": 270, "fontSize": 15, "fontWeight": "bold", "align": "center", "baseline": "middle"},
   "encoding": {"x": {"datum": -16.4, "type": "quantitative"}, "y": {"datum": 0.5, "type": "quantitative"}}},
  {"data": {"values": [{}]}, "mark": {"type": "text", "text": "f.", "fontSize": 23, "fontWeight": "bold", "align": "left", "baseline": "middle"},
   "encoding": {"x": {"datum": -115.1, "type": "quantitative"}, "y": {"datum": 0.825, "type": "quantitative"}}}
 ]
},
{"width": 750, "height": 47, "data": {"values": [{}]}, "mark": {"type": "point", "opacity": 0}, "encoding": {}},
{
 "width": 750, "height": 110,
 "layer": [
  {"data": {"values": [{}]}, "mark": {"type": "rule", "strokeWidth": 5, "color": "#222222"},
   "encoding": {
    "x": {"datum": 0, "type": "quantitative", "scale": {"domain": [0, 712], "range": [9, 747], "nice": false, "zero": false}, "axis": null},
    "x2": {"datum": 712},
    "y": {"datum": 3.3, "type": "quantitative", "scale": {"domain": [0, 11], "range": [0, 110], "nice": false, "zero": false}, "axis": null}}},
  {"data": {"name": "dom"}, "mark": {"type": "rect", "stroke": "#666666", "strokeWidth": 1},
   "encoding": {"x": {"field": "s", "type": "quantitative"}, "x2": {"field": "e"}, "y": {"datum": 6.67, "type": "quantitative"}, "y2": {"datum": 9.0},
    "color": {"field": "n", "type": "nominal", "scale": {"domain": ["AAA+", "WHD"], "range": ["#3fbfc4", "#efe516"]}, "legend": null}}},
  {"data": {"name": "dom"}, "transform": [{"calculate": "(datum.s + datum.e) / 2", "as": "mid"}], "mark": {"type": "text", "fontSize": 18, "align": "center", "baseline": "middle"},
   "encoding": {"x": {"field": "mid", "type": "quantitative"}, "y": {"datum": 7.85, "type": "quantitative"}, "text": {"field": "n"}}},
  {"data": {"name": "dom"}, "mark": {"type": "text", "fontSize": 14, "align": "left", "baseline": "middle", "color": "#555555", "font": "Liberation Sans Narrow, Liberation Sans"},
   "encoding": {"x": {"field": "s", "type": "quantitative"}, "y": {"datum": 10.2, "type": "quantitative"}, "text": {"field": "s", "type": "quantitative", "format": "d"}}},
  {"data": {"name": "dom"}, "mark": {"type": "text", "fontSize": 14, "align": "right", "baseline": "middle", "color": "#555555", "font": "Liberation Sans Narrow, Liberation Sans"},
   "encoding": {"x": {"field": "e", "type": "quantitative"}, "y": {"datum": 10.2, "type": "quantitative"}, "text": {"field": "e", "type": "quantitative", "format": "d"}}},
  {"data": {"values": [{}]}, "mark": {"type": "text", "text": "ORC3", "fontSize": 25, "fontWeight": "bold", "align": "center", "baseline": "middle"},
   "encoding": {"x": {"datum": 765, "type": "quantitative"}, "y": {"datum": 3.2, "type": "quantitative"}}},
  {"data": {"values": [{}]}, "mark": {"type": "text", "text": "(712 aa)", "fontSize": 25, "fontWeight": "bold", "align": "center", "baseline": "middle"},
   "encoding": {"x": {"datum": 765, "type": "quantitative"}, "y": {"datum": 6.2, "type": "quantitative"}}},
  {"data": {"values": [{}]}, "mark": {"type": "text", "text": "g.", "fontSize": 23, "fontWeight": "bold", "align": "left", "baseline": "middle"},
   "encoding": {"x": {"datum": -117.7, "type": "quantitative"}, "y": {"datum": 3.4, "type": "quantitative"}}}
 ]
}
]
}
